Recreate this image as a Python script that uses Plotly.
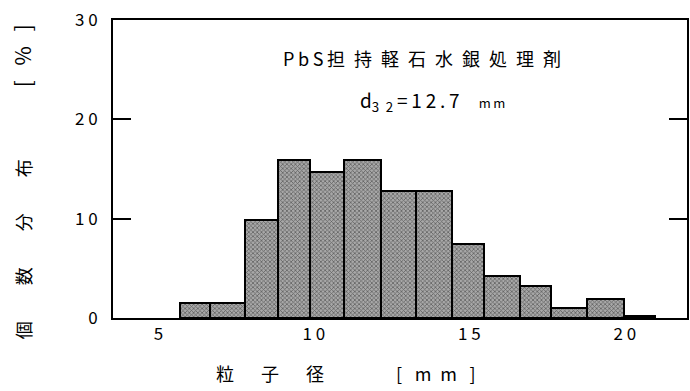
import plotly.graph_objects as go

bin_edges = [5.69, 6.65, 7.80, 8.86, 9.86, 10.98, 12.16, 13.29, 14.44, 15.46,
             16.62, 17.64, 18.77, 19.98, 20.98]
freq = [1.5, 1.5, 9.9, 15.9, 14.7, 15.9, 12.8, 12.8, 7.5, 4.2, 3.2, 1.0, 1.9, 0.25]

x_tickvals = [5, 10, 15, 20]
x_ticktext = ["5", "1 0", "1 5", "2 0"]
y_tickvals = [0, 10, 20, 30]
y_ticktext = ["0", "1 0", "2 0", "3 0"]

centers = [(a + b) / 2 for a, b in zip(bin_edges[:-1], bin_edges[1:])]
widths = [b - a for a, b in zip(bin_edges[:-1], bin_edges[1:])]

FONT = "Noto Sans CJK JP"
E = "\u2002"   # en space
T = "\u2009"   # thin space
I = "\u3000"   # ideographic space

fig = go.Figure()
fig.add_trace(go.Bar(
    x=centers, y=freq, width=widths,
    marker=dict(
        color="#a0a0a0",
        line=dict(color="black", width=2),
        pattern=dict(shape="x", fgcolor="#1a1a1a", bgcolor="#a8a8a8",
                     size=3, solidity=0.45, fillmode="overlay"),
    ),
    showlegend=False,
))

fig.update_layout(
    width=690, height=391,
    margin=dict(l=113, r=1, t=20, b=73),
    paper_bgcolor="white", plot_bgcolor="white",
    font=dict(family=FONT, color="black", size=16),
    bargap=0,
    xaxis=dict(
        range=[3.54, 22.0], showgrid=False, zeroline=False,
        showline=True, linecolor="black", linewidth=2, mirror=True,
        ticks="", tickvals=x_tickvals, ticktext=x_ticktext,
        tickfont=dict(size=17, family=FONT),
    ),
    yaxis=dict(
        range=[0, 30], showgrid=False, zeroline=False,
        showline=True, linecolor="black", linewidth=2, mirror="ticks",
        ticks="inside", ticklen=18, tickwidth=1.5, tickcolor="black",
        tickvals=y_tickvals, ticktext=y_ticktext,
        tickfont=dict(size=17, family=FONT), ticklabelstandoff=10,
    ),
    annotations=[
        dict(text="P" + T + "b" + T + "S" + T + E.join("担持軽石水銀処理剤"),
             xref="paper", yref="paper",
             x=(423 - 113) / 576, y=(318 - 58) / 298,
             showarrow=False, font=dict(size=18, family=FONT),
             xanchor="center", yanchor="middle"),
        dict(text="d<sub>3" + E + "2</sub>" + T + "=" + T + "1" + T + "2" + T + "." + T + "7"
                  + E + E + "<span style='font-size:13px'>m" + T + "m</span>",
             xref="paper", yref="paper",
             x=(434 - 113) / 576, y=(318 - 101) / 298,
             showarrow=False, font=dict(size=19, family=FONT),
             xanchor="center", yanchor="middle"),
        dict(text="粒" + I + E + "子" + I + E + "径" + I * 4 + "[" + E + T + "m" + E + "m" + E + T + "]",
             xref="paper", yref="paper",
             x=(347 - 113) / 576, y=(318 - 373) / 298,
             showarrow=False, font=dict(size=18, family=FONT),
             xanchor="center", yanchor="middle"),
        dict(text="個" + I * 2 + "数" + I * 2 + "分" + I * 2 + "布" + I * 4
                  + "<span style='font-size:21px'>[" + E + T + "%" + E + T + "]</span>",
             xref="paper", yref="paper",
             x=(22 - 113) / 576, y=(318 - 182) / 298,
             textangle=-90,
             showarrow=False, font=dict(size=18, family=FONT),
             xanchor="center", yanchor="middle"),
    ],
)

fig.write_html(
    "out.html",
    config={"displayModeBar": False},
    post_script="document.body.style.margin='0';document.body.style.overflow='hidden';",
)
